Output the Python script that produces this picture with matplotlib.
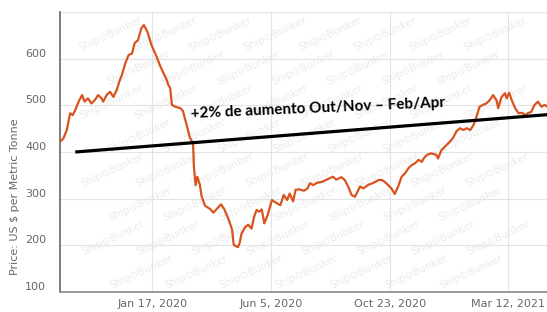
import matplotlib
matplotlib.use("Agg")
import matplotlib.pyplot as plt
import matplotlib.transforms as mtransforms
import pandas as pd

# days counted from 2019-09-30, prices
days = [0, 4, 8, 12, 15, 18, 22, 26, 29, 33,
        37, 41, 45, 49, 51, 55, 59, 63, 67, 70,
        73, 77, 81, 85, 88, 92, 96, 99, 103, 108,
        114, 118, 126, 128, 130, 132, 136, 142, 145, 149,
        153, 157, 158, 160, 162, 165, 167, 171, 177, 181,
        185, 190, 194, 199, 203, 205, 210, 212, 214, 218,
        222, 226, 229, 232, 235, 238, 241, 245, 250, 256,
        260, 264, 268, 271, 275, 278, 282, 288, 292, 295,
        299, 303, 309, 315, 322, 326, 332, 336, 340, 344,
        348, 354, 358, 364, 370, 376, 380, 385, 391, 395,
        399, 403, 407, 411, 415, 419, 423, 427, 429, 433,
        438, 444, 446, 450, 456, 460, 464, 468, 472, 476,
        480, 484, 488, 492, 495, 499, 503, 507, 511, 515,
        517, 521, 525, 527, 530, 533, 537, 541, 545, 549,
        552, 556, 560, 564, 568, 572, 575]
prices = [422, 429, 447, 483, 479, 490, 508, 522, 508, 515,
          504, 511, 522, 515, 508, 522, 529, 518, 533, 551,
          565, 590, 608, 611, 633, 640, 665, 672, 658, 629,
          604, 585, 554, 543, 537, 501, 497, 494, 488, 461,
          432, 418, 368, 329, 347, 330, 306, 285, 278, 270,
          278, 288, 277, 255, 234, 201, 196, 205, 224, 238,
          244, 236, 261, 276, 272, 277, 247, 265, 297, 290,
          286, 308, 297, 311, 294, 319, 320, 317, 322, 333,
          329, 334, 336, 341, 347, 341, 346, 340, 326, 308,
          304, 326, 322, 330, 334, 340, 340, 333, 322, 310,
          326, 347, 354, 365, 372, 376, 383, 379, 386, 394,
          397, 394, 386, 404, 415, 422, 431, 445, 451, 447,
          451, 447, 458, 479, 497, 501, 504, 511, 522, 511,
          494, 518, 526, 515, 527, 511, 494, 483, 484, 479,
          483, 486, 501, 508, 497, 501, 497]

trend_days = [18, 575]
trend_prices = [400, 480]

tick_dates = ["2020-01-17", "2020-06-05", "2020-10-23", "2021-03-12"]
tick_labels = ["Jan 17, 2020", "Jun 5, 2020", "Oct 23, 2020", "Mar 12, 2021"]
y_ticks = [100, 200, 300, 400, 500, 600, 700]
y_labels = ["100", "200", "300", "400", "500", "600", ""]

note = "+2% de aumento Out/Nov \u2013 Feb/Apr"
y_title = "Price: US $ per Metric Tonne"

start = pd.Timestamp("2019-09-30")
dates = start + pd.to_timedelta(days, unit="D")
trend_dates = start + pd.to_timedelta(trend_days, unit="D")

W, H = 547, 312
fig = plt.figure(figsize=(W / 100, H / 100), dpi=100)
ax = fig.add_axes([60 / W, 1 - 292 / H, 1 - 60 / W, (292 - 12) / H])

ax.set_xlim(start, start + pd.Timedelta(days=574.6))
ax.set_ylim(100, 700)

# faint watermark texture, kept inside the plot area
aw, ah = W - 60, 280
for j in range(8):
    for i in range(10):
        xp = 50 + i * 55 - (j * 27) % 55
        yp = 22 + j * 34
        if xp < 35 or xp > aw - 35:
            continue
        ax.text(xp / aw, 1 - yp / ah, "Ship\u2299Bunker", transform=ax.transAxes,
                rotation=25, fontsize=7.5, color="#ebebeb",
                ha="center", va="center", zorder=0)

ax.plot(dates, prices, color="#d9531e", lw=1.6, zorder=3)
ax.plot(trend_dates, trend_prices, color="black", lw=2.3, solid_capstyle="butt", zorder=4)

ax.text(start + pd.Timedelta(days=154), 481, note, fontsize=11, fontweight="bold",
        family=["Lato", "DejaVu Sans"], rotation=2.5, rotation_mode="anchor",
        ha="left", va="center", zorder=5)

ax.set_xticks(pd.to_datetime(tick_dates))
ax.set_xticklabels(tick_labels)
ax.set_yticks(y_ticks)
ax.set_yticklabels(y_labels)

ax.grid(True, color="#e3e3e3", lw=0.8, zorder=1)
ax.set_axisbelow(True)
for s in ["top", "right"]:
    ax.spines[s].set_visible(False)
ax.spines["left"].set_color("#666666")
ax.spines["bottom"].set_color("#888888")
ax.spines["left"].set_linewidth(1.2)
ax.spines["bottom"].set_linewidth(1.2)

ax.tick_params(axis="both", length=0, labelsize=8, colors="#666666")
ax.tick_params(axis="x", pad=5)
ax.tick_params(axis="y", pad=10)

# highcharts style: y labels sit a little above their grid line
shift = mtransforms.ScaledTranslation(0, 6 / 100, fig.dpi_scale_trans)
for lab in ax.get_yticklabels():
    lab.set_transform(lab.get_transform() + shift)

fig.text(15 / W, 1 - 197 / H, y_title, rotation=90, fontsize=8, color="#666666",
         ha="center", va="center")

fig.savefig("out.png", dpi=100)
